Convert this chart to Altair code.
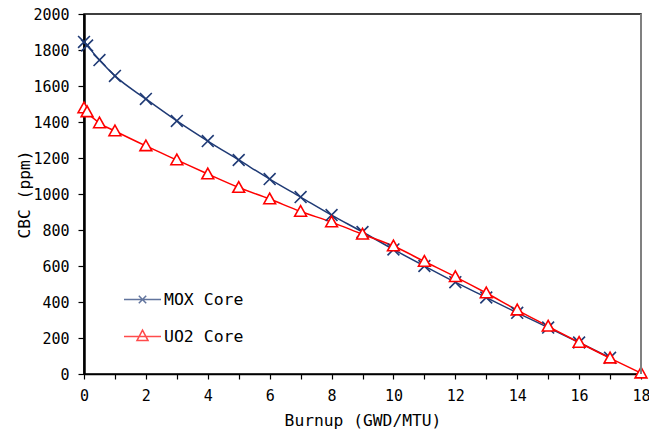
import altair as alt
import pandas as pd

mox_x = [0, 0.1, 0.5, 1, 2, 3, 4, 5, 6, 7, 8, 9, 10, 11, 12, 13, 14, 15, 16, 17]
mox_y = [1845, 1825, 1744, 1656, 1528, 1406, 1294, 1189, 1083, 983, 883, 789, 692, 600, 510, 425, 340, 258, 175, 90]
uo2_x = [0, 0.1, 0.5, 1, 2, 3, 4, 5, 6, 7, 8, 9, 10, 11, 12, 13, 14, 15, 16, 17, 18]
uo2_y = [1478, 1456, 1394, 1350, 1267, 1189, 1111, 1036, 972, 903, 844, 776, 711, 625, 540, 450, 355, 265, 175, 88, 5]

series = ["MOX Core", "UO2 Core"]
colors = ["#1F3A75", "#FF0000"]
marker_paths = ["M-1,-1L1,1M-1,1L1,-1", "M-1,0.8L0,-1L1,0.8Z"]
legend_paths = ["M-1,0L1,0M-0.2,-0.2L0.2,0.2M-0.2,0.2L0.2,-0.2",
                "M-1,0L1,0M-0.3,0.22L0,-0.34L0.3,0.22Z"]
x_ticks = list(range(0, 19))
y_ticks = list(range(0, 2001, 200))

df = pd.DataFrame({
    "x": mox_x + uo2_x,
    "y": mox_y + uo2_y,
    "series": [series[0]] * len(mox_x) + [series[1]] * len(uo2_x),
})

FONT = "DejaVu Sans Mono"
W, H = 557, 360

xenc = alt.X("x:Q", scale=alt.Scale(domain=[0, 18], nice=False),
             axis=alt.Axis(values=x_ticks, labelExpr="datum.value % 2 == 0 ? datum.label : ''",
                           title="Burnup (GWD/MTU)", grid=False, tickSize=5,
                           labelPadding=9, titlePadding=9, domainWidth=1.5,
                           labelFlush=False, labelOverlap=False))
yenc = alt.Y("y:Q", scale=alt.Scale(domain=[0, 2000], nice=False),
             axis=alt.Axis(values=y_ticks, format="d", title="CBC (ppm)", grid=False, tickSize=6,
                           labelPadding=9, titlePadding=0, domainWidth=2.5,
                           labelOverlap=False))

color_nolegend = alt.Color("series:N", scale=alt.Scale(domain=series, range=colors), legend=None)

lines = alt.Chart(df).mark_line(interpolate="monotone", strokeWidth=1.5).encode(
    x=xenc, y=yenc, color=color_nolegend, detail="series:N")

points = alt.Chart(df).mark_point(filled=False, fill="white", size=140, strokeWidth=1.6, opacity=1).encode(
    x=xenc, y=yenc, color=color_nolegend,
    shape=alt.Shape("series:N", scale=alt.Scale(domain=series, range=marker_paths), legend=None))

leg = dict(title=None, orient="none", legendX=39, legendY=266,
           symbolSize=1369, labelFont=FONT, labelFontSize=16.5,
           labelColor="black", labelOffset=2, rowPadding=9,
           padding=0, symbolStrokeWidth=1.5, labelLimit=300)

legend_layer = alt.Chart(df).transform_filter("datum.x < 0").mark_point(filled=False, strokeWidth=1.5).encode(
    x=xenc, y=yenc,
    color=alt.Color("series:N", scale=alt.Scale(domain=series, range=colors), legend=alt.Legend(**leg)),
    shape=alt.Shape("series:N", scale=alt.Scale(domain=series, range=legend_paths), legend=alt.Legend(**leg)))

right_border = alt.Chart(df).mark_rule(color="#808080", strokeWidth=1.5).encode(
    x=alt.value(W), y=alt.value(0), y2=alt.value(H))

chart = alt.layer(lines, points, legend_layer, right_border).resolve_scale(
    color="independent", shape="independent"
).properties(
    width=W, height=H, autosize=alt.AutoSizeParams(type="none"),
    padding={"left": 84, "top": 14, "right": 8, "bottom": 56}, background="white"
).configure_view(stroke="black", strokeWidth=1.5).configure_axis(
    labelFont=FONT, labelFontSize=15, labelColor="black", titleFont=FONT, titleFontSize=16.3,
    titleFontWeight="normal", titleColor="black", domainColor="black", tickColor="black",
    tickWidth=1.2
)

chart.save("out.html", embed_options={"renderer": "svg", "actions": False})
